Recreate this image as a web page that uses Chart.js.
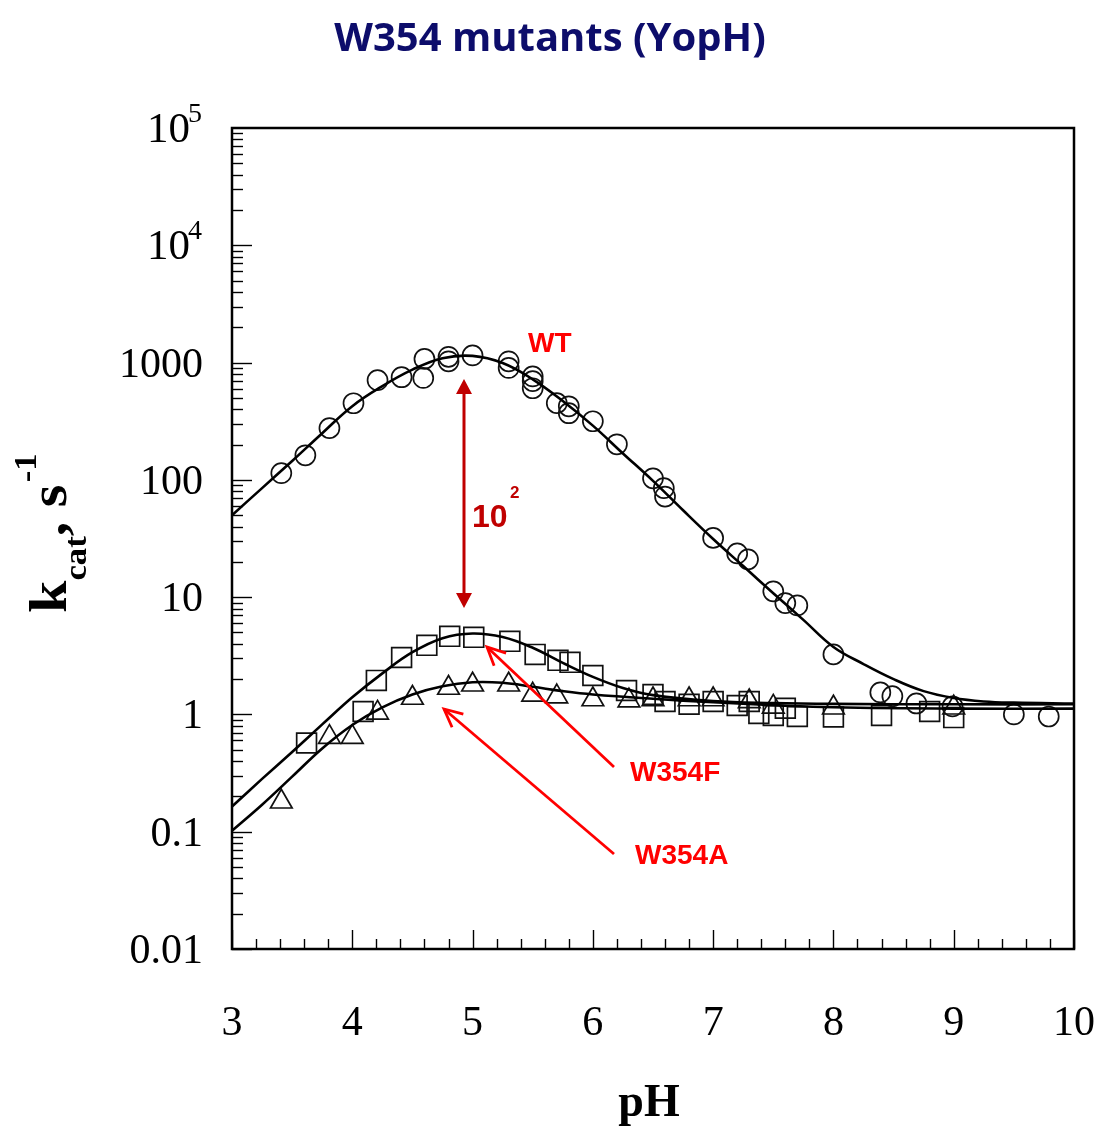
<!DOCTYPE html>
<html>
<head>
<meta charset="utf-8">
<script src="https://cdn.jsdelivr.net/npm/chart.js@4/dist/chart.umd.min.js"></script>
<style>
html,body{margin:0;padding:0;background:#fff;}
#c{display:block;}
</style>
</head>
<body>
<canvas id="c" width="1099" height="1126"></canvas>
<script>
// ---------- data ----------
const wtPH   = [3.41,3.61,3.81,4.01,4.21,4.41,4.6,4.59,4.8,4.8,5.0,5.3,5.3,5.5,5.5,5.5,5.7,5.8,5.8,6.0,6.2,6.5,6.59,6.6,7.0,7.2,7.29,7.5,7.6,7.7,8.0,8.39,8.49,8.69,8.99,9.5,9.79];
const wtKcat = [114,162,276,450,708,750,1075,740,1120,1025,1150,1025,900,762,695,604,451,424,370,316,201,103,85,72,32,23.6,21,11.2,8.9,8.5,3.25,1.54,1.43,1.24,1.17,1.0,0.96];

const fPH   = [3.62,4.09,4.2,4.41,4.62,4.81,5.01,5.31,5.52,5.71,5.81,6.0,6.28,6.5,6.6,6.8,7.0,7.2,7.3,7.38,7.5,7.6,7.7,8.0,8.4,8.8,9.0];
const fKcat = [0.57,1.06,1.95,3.06,3.88,4.63,4.54,4.2,3.25,2.89,2.78,2.15,1.6,1.48,1.29,1.22,1.29,1.19,1.29,1.02,0.98,1.13,0.96,0.95,0.98,1.06,0.94];

const aPH   = [3.41,3.81,4.0,4.21,4.5,4.8,5.0,5.3,5.5,5.7,6.0,6.3,6.5,6.8,7.0,7.3,7.5,8.0,9.0];
const aKcat = [0.18,0.64,0.64,1.03,1.38,1.68,1.79,1.79,1.47,1.42,1.34,1.31,1.34,1.34,1.34,1.29,1.16,1.14,1.14];

const wtFitPH = [3,3.25,3.5,3.75,4,4.25,4.5,4.75,5,5.25,5.5,5.75,6,6.25,6.5,6.75,7,7.25,7.5,7.75,8,8.25,8.5,8.75,9,9.25,9.5,10];
const wtFit   = [50,85,145,250,425,630,870,1090,1140,990,720,470,290,168,98,55,31.3,18.4,10.8,6.4,3.76,2.69,2.0,1.58,1.38,1.29,1.26,1.24];

const fFitPH = [3,3.25,3.5,3.75,4,4.25,4.5,4.75,5,5.25,5.5,5.75,6,6.25,6.5,7,7.5,8,9,10];
const fFit   = [0.164,0.282,0.479,0.822,1.40,2.24,3.39,4.47,4.9,4.57,3.7,2.75,2.09,1.68,1.46,1.3,1.25,1.23,1.22,1.22];

const aFitPH = [3,3.25,3.5,3.75,4,4.25,4.5,4.75,5,5.25,5.5,5.75,6,6.5,7,7.5,8,9,10];
const aFit   = [0.102,0.17,0.295,0.513,0.813,1.15,1.48,1.74,1.88,1.86,1.72,1.58,1.48,1.36,1.27,1.2,1.15,1.12,1.12];

const xTickValues = [3,4,5,6,7,8,9,10];
const xTickLabels = ['3','4','5','6','7','8','9','10'];
const yTickValues = [0.01,0.1,1,10,100,1000,10000,100000];
const yTickLabels = [['0.01',''],['0.1',''],['1',''],['10',''],['100',''],['1000',''],['10','4'],['10','5']];

const titleText = 'W354 mutants (YopH)';
const xTitle = 'pH';
const seriesNames = ['WT','W354F','W354A'];
const foldText = ['10','2'];

// ---------- helpers ----------
const pts = (xs, ys) => xs.map((v,i)=>({x:v, y:ys[i]}));
const SERIF = '"Liberation Serif", "DejaVu Serif", serif';
const SANS = '"Liberation Sans", Arial, sans-serif';

function arrowOpen(ctx, x0, y0, x1, y1, len, ang){
  ctx.beginPath(); ctx.moveTo(x0,y0); ctx.lineTo(x1,y1); ctx.stroke();
  const t = Math.atan2(y1-y0, x1-x0);
  ctx.beginPath();
  ctx.moveTo(x1 - len*Math.cos(t-ang), y1 - len*Math.sin(t-ang));
  ctx.lineTo(x1,y1);
  ctx.lineTo(x1 - len*Math.cos(t+ang), y1 - len*Math.sin(t+ang));
  ctx.stroke();
}
function arrowHead(ctx, x, y, dir, w, l){
  ctx.beginPath();
  ctx.moveTo(x, y);
  ctx.lineTo(x - w/2, y + dir*l);
  ctx.lineTo(x + w/2, y + dir*l);
  ctx.closePath(); ctx.fill();
}

const overlay = {
  id:'overlay',
  afterDraw(chart){
    const ctx = chart.ctx, a = chart.chartArea, xs = chart.scales.x, ys = chart.scales.y;
    ctx.save();
    ctx.strokeStyle = '#000'; ctx.fillStyle = '#000';
    // frame
    ctx.lineWidth = 2.5;
    ctx.strokeRect(a.left, a.top, a.right-a.left, a.bottom-a.top);
    // x ticks (inward)
    ctx.lineWidth = 1.4;
    for(let i=0;i<=35;i++){
      const v = 3 + i*0.2, px = Math.round(xs.getPixelForValue(v))+0.5, major = (i%5===0);
      ctx.beginPath(); ctx.moveTo(px, a.bottom); ctx.lineTo(px, a.bottom-(major?19:10)); ctx.stroke();
    }
    // y ticks (inward, log)
    for(let e=-2;e<=4;e++){
      for(let m=1;m<=9;m++){
        const v = m*Math.pow(10,e), py = Math.round(ys.getPixelForValue(v))+0.5;
        ctx.beginPath(); ctx.moveTo(a.left, py); ctx.lineTo(a.left+(m===1?20:11), py); ctx.stroke();
      }
    }
    // x tick labels
    ctx.font = '42px ' + SERIF; ctx.textAlign = 'center'; ctx.textBaseline = 'alphabetic';
    xTickValues.forEach((v,i)=>{ ctx.fillText(xTickLabels[i], xs.getPixelForValue(v), 1035); });
    // y tick labels
    ctx.textAlign = 'right';
    yTickValues.forEach((v,i)=>{
      const py = ys.getPixelForValue(v);
      const [base, sup] = yTickLabels[i];
      if(sup){
        ctx.font = '28px ' + SERIF; const sw = ctx.measureText(sup).width;
        ctx.fillText(sup, 202, py - 6);
        ctx.font = '43px ' + SERIF; ctx.fillText(base, 202 - sw + 2, py + 14);
      } else {
        ctx.font = '42px ' + SERIF; ctx.fillText(base, 203, py + 14);
      }
    });
    // x title
    ctx.font = 'bold 46px ' + SERIF; ctx.textAlign = 'center';
    ctx.fillText(xTitle, 649, 1116);
    // y title (k_cat, s^-1)
    ctx.save();
    ctx.translate(66, 613); ctx.rotate(-Math.PI/2); ctx.scale(1.12, 1);
    ctx.textAlign = 'left';
    let w = 0;
    ctx.font = 'bold 52px ' + SERIF; ctx.fillText('k', w, 0); w += ctx.measureText('k').width;
    ctx.font = 'bold 31px ' + SERIF; ctx.fillText('cat', w, 20); w += ctx.measureText('cat').width;
    ctx.font = 'bold 52px ' + SERIF; ctx.fillText(', ', w, 0); w += ctx.measureText(', ').width;
    ctx.fillText('s', w, 0); w += ctx.measureText('s').width;
    ctx.font = 'bold 31px ' + SERIF; ctx.fillText('-1', w + 2, -30);
    ctx.restore();
    // title
    ctx.fillStyle = '#0d0d6b';
    ctx.font = 'bold 40px "Open Sans", ' + SANS; ctx.textAlign = 'center';
    ctx.fillText(titleText, 550, 51);
    // annotations
    ctx.fillStyle = '#ff0000';
    ctx.font = 'bold 28px ' + SANS; ctx.textAlign = 'left';
    ctx.fillText(seriesNames[0], 528, 352);
    ctx.fillText(seriesNames[1], 630, 781);
    ctx.fillText(seriesNames[2], 635, 864);
    ctx.strokeStyle = '#ff0000'; ctx.lineWidth = 2.8;
    arrowOpen(ctx, 614, 767, 487, 647, 20, 0.45);
    arrowOpen(ctx, 614, 854, 444, 709, 20, 0.45);
    // 10^2 double arrow
    ctx.fillStyle = '#c00000'; ctx.strokeStyle = '#c00000'; ctx.lineWidth = 3;
    ctx.beginPath(); ctx.moveTo(464, 390); ctx.lineTo(464, 597); ctx.stroke();
    arrowHead(ctx, 464, 379, 1, 16, 15);
    arrowHead(ctx, 464, 608, -1, 16, 15);
    ctx.font = 'bold 32px ' + SANS; ctx.fillText(foldText[0], 472, 527);
    ctx.font = 'bold 17px ' + SANS; ctx.fillText(foldText[1], 510, 498);
    ctx.restore();
  }
};

const markerBase = {showLine:false, borderColor:'#111', backgroundColor:'rgba(0,0,0,0)', borderWidth:1.7, pointBorderWidth:1.7};
const lineBase = {showLine:true, pointRadius:0, borderColor:'#000', borderWidth:2.6, tension:0.4, fill:false};

new Chart(document.getElementById('c'), {
  type:'scatter',
  data:{ datasets:[
    Object.assign({label:'WT fit', data:pts(wtFitPH, wtFit)}, lineBase),
    Object.assign({label:'W354F fit', data:pts(fFitPH, fFit)}, lineBase),
    Object.assign({label:'W354A fit', data:pts(aFitPH, aFit)}, lineBase),
    Object.assign({label:'WT', data:pts(wtPH, wtKcat), pointStyle:'circle', pointRadius:10}, markerBase),
    Object.assign({label:'W354F', data:pts(fPH, fKcat), pointStyle:'rect', pointRadius:14}, markerBase),
    Object.assign({label:'W354A', data:pts(aPH, aKcat), pointStyle:'triangle', pointRadius:12.5}, markerBase)
  ]},
  options:{
    responsive:false, animation:false, devicePixelRatio:1,
    layout:{padding:{top:128, right:25, left:0, bottom:0}},
    plugins:{legend:{display:false}, tooltip:{enabled:false}, title:{display:false}},
    elements:{point:{hoverRadius:10}},
    scales:{
      x:{type:'linear', min:3, max:10, grid:{display:false}, border:{display:false},
         ticks:{display:false}, afterFit:s=>{s.height = 177;}},
      y:{type:'logarithmic', min:0.01, max:100000, grid:{display:false}, border:{display:false},
         ticks:{display:false}, afterFit:s=>{s.width = 232;}}
    }
  },
  plugins:[overlay]
});
</script>
</body>
</html>
